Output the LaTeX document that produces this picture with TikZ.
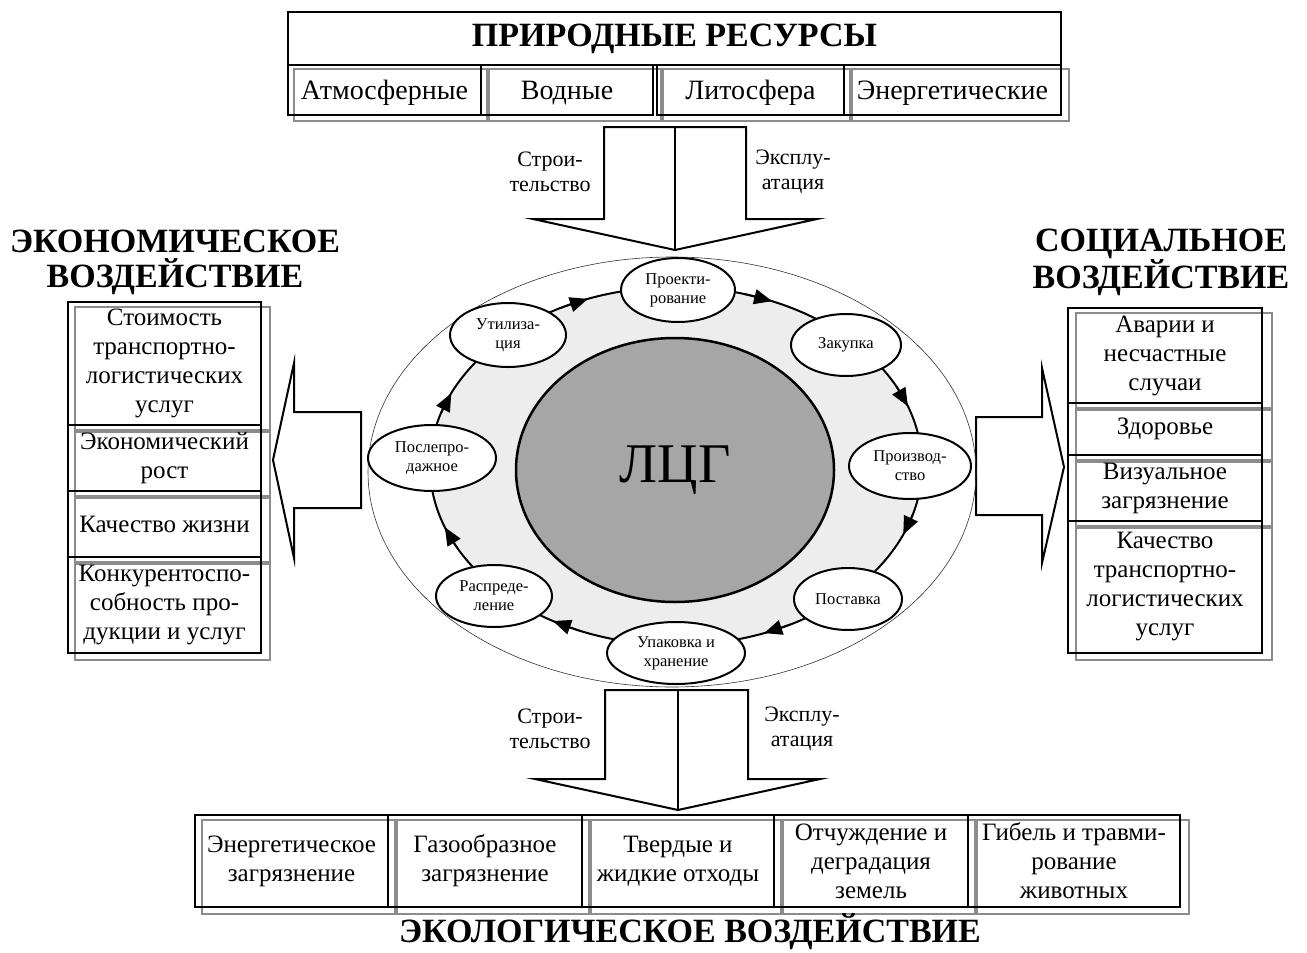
\documentclass[tikz,border=0pt]{standalone}
\usepackage{fontspec}
\setmainfont{Liberation Serif}
\usetikzlibrary{shapes.geometric,arrows.meta,backgrounds,calc}

% font sizes (1pt of the picture = one unit of the coordinate grid)
\newcommand\fsTitle{\fontsize{34}{35}\bfseries\selectfont}
\newcommand\fsHead{\fontsize{34}{35}\bfseries\selectfont}
\newcommand\fsTop{\fontsize{28}{30}\selectfont}
\newcommand\fsCell{\fontsize{25}{29}\selectfont}
\newcommand\fsLbl{\fontsize{22}{25}\selectfont}
\newcommand\fsSmall{\fontsize{16.5}{19}\selectfont}
\newcommand\fsCore{\fontsize{56}{60}\selectfont}

% grey offset frame behind a cell
\newcommand\castshadow[2]{%
  \begin{pgfonlayer}{background}
    \draw[shadowbox] ([shift={(#2)}]#1.south west) rectangle ([shift={(#2)}]#1.north east);
  \end{pgfonlayer}}

\begin{document}
\begin{tikzpicture}[x=1pt,y=-1pt,
  cell/.style={draw=black, line width=2.2pt, inner sep=0pt, align=center, font=\fsCell},
  toprow/.style={cell, font=\fsTop, text depth=0pt},
  shadowbox/.style={draw=black!45, line width=2pt},
  hollowarrow/.style={draw=black, line width=2pt, fill=white, line join=miter},
  stage/.style={ellipse, draw=black, line width=2pt, fill=white, inner sep=0pt, align=center, font=\fsSmall},
  flowlabel/.style={align=center, font=\fsLbl},
  heading/.style={align=center, font=\fsHead},
  ringtip/.style={line width=1.6pt, -{Triangle[length=18pt,width=15pt]}}]

\useasboundingbox (0,0) rectangle (1307,953);
\begin{pgfonlayer}{background}
  \fill[white] (0,0) rectangle (1307,953);
\end{pgfonlayer}

% ---- natural resources
\node[cell, font=\fsTitle, minimum width=773, minimum height=53] (res) at (674.5,38.5) {ПРИРОДНЫЕ РЕСУРСЫ};
\node[toprow, minimum width=193, minimum height=50] (atm) at (384.5,90) {Атмосферные};
\node[toprow, minimum width=172, minimum height=50] (vod) at (567,90) {Водные};
\node[toprow, minimum width=187, minimum height=50] (lit) at (750.5,90) {Литосфера};
\node[toprow, minimum width=217, minimum height=50] (ene) at (952.5,90) {Энергетические};
\foreach \c in {atm,vod,lit,ene} {\castshadow{\c}{7,5}}

% ---- arrow from resources into the cycle
\draw[hollowarrow] (604,127) -- (746,127) -- (746,219) -- (817,219) -- (675,250)
  -- (533,219) -- (604,219) -- cycle;
\draw[line width=2pt] (675,127) -- (675,250);
\node[flowlabel] (tbuild) at (550,172) {Строи-\\тельство};
\node[flowlabel] (tuse) at (793,172) {Эксплу-\\атация};

% ---- headings
\node[heading] (econ) at (175,262) {ЭКОНОМИЧЕСКОЕ\\ВОЗДЕЙСТВИЕ};
\node[heading] (soc) at (1161,262) {СОЦИАЛЬНОЕ\\ВОЗДЕЙСТВИЕ};
\node[heading] (eco) at (690,932) {ЭКОЛОГИЧЕСКОЕ ВОЗДЕЙСТВИЕ};

% ---- economic column
\node[cell, minimum width=193, minimum height=123] (e1) at (164.5,363.5) {Стоимость\\транспортно-\\логистических\\услуг};
\node[cell, minimum width=193, minimum height=66] (e2) at (164.5,458) {Экономический\\рост};
\node[cell, minimum width=193, minimum height=66] (e3) at (164.5,524) {Качество жизни};
\node[cell, minimum width=193, minimum height=96] (e4) at (164.5,605) {Конкурентоспо-\\собность про-\\дукции и услуг};
\foreach \c in {e1,e2,e3,e4} {\castshadow{\c}{8,6}}

% ---- social column
\node[cell, minimum width=194, minimum height=95] (s1) at (1165,355.5) {Аварии и\\несчастные\\случаи};
\node[cell, minimum width=194, minimum height=52] (s2) at (1165,429) {Здоровье};
\node[cell, minimum width=194, minimum height=66] (s3) at (1165,488) {Визуальное\\загрязнение};
\node[cell, minimum width=194, minimum height=132] (s4) at (1165,587) {Качество\\транспортно-\\логистических\\услуг};
\foreach \c in {s1,s2,s3,s4} {\castshadow{\c}{9,6}}

% ---- side arrows
\draw[hollowarrow] (361,412) -- (294,412) -- (294,363) -- (273,460) -- (294,558)
  -- (294,508) -- (361,508) -- cycle;
\draw[hollowarrow] (976,417) -- (1042,417) -- (1042,368) -- (1064,467) -- (1042,563)
  -- (1042,515) -- (976,515) -- cycle;

% ---- life cycle
\draw[line width=0.6pt, draw=black!80] (672,472) ellipse [x radius=304, y radius=215];
\draw[line width=2pt, fill=black!7] (676,466) ellipse [x radius=246, y radius=179];
\foreach \a in {-111,-67,-19.5,22.5,69,120,160,204}
  \draw[ringtip] ($(676,466)+(\a-7:246 and 179)$) -- ($(676,466)+(\a:246 and 179)$);
\node[ellipse, draw=black, line width=2.5pt, fill=black!35, minimum width=318, minimum height=264,
  font=\fsCore] (core) at (675,470) {ЛЦГ};

\node[stage, minimum width=114, minimum height=64] (st1) at (678,290) {Проекти-\\рование};
\node[stage, minimum width=110, minimum height=62] (st2) at (846,345) {Закупка};
\node[stage, minimum width=122, minimum height=66] (st3) at (910,466) {Производ-\\ство};
\node[stage, minimum width=108, minimum height=62] (st4) at (848,599) {Поставка};
\node[stage, minimum width=138, minimum height=62] (st5) at (676,653) {Упаковка и\\хранение};
\node[stage, minimum width=116, minimum height=62] (st6) at (494,596) {Распреде-\\ление};
\node[stage, minimum width=128, minimum height=66] (st7) at (432,458) {Послепро-\\дажное};
\node[stage, minimum width=116, minimum height=64] (st8) at (508,335) {Утилиза-\\ция};

% ---- arrow from the cycle to ecological impact
\draw[hollowarrow] (605,690) -- (748,690) -- (748,779) -- (820,779) -- (678,810)
  -- (535,779) -- (605,779) -- cycle;
\draw[line width=2pt] (678,690) -- (678,810);
\node[flowlabel] (bbuild) at (550,729) {Строи-\\тельство};
\node[flowlabel] (buse) at (802,729) {Эксплу-\\атация};

% ---- ecological row
\node[cell, minimum width=193, minimum height=92] (b1) at (291.5,861) {Энергетическое\\загрязнение};
\node[cell, minimum width=194, minimum height=92] (b2) at (485,861) {Газообразное\\загрязнение};
\node[cell, minimum width=192, minimum height=92] (b3) at (678,861) {Твердые и\\жидкие отходы};
\node[cell, minimum width=194, minimum height=92] (b4) at (871,861) {Отчуждение и\\деградация\\земель};
\node[cell, minimum width=212, minimum height=92] (b5) at (1074,861) {Гибель и травми-\\рование\\животных};
\foreach \c in {b1,b2,b3,b4,b5} {\castshadow{\c}{8,6}}

\end{tikzpicture}
\end{document}
